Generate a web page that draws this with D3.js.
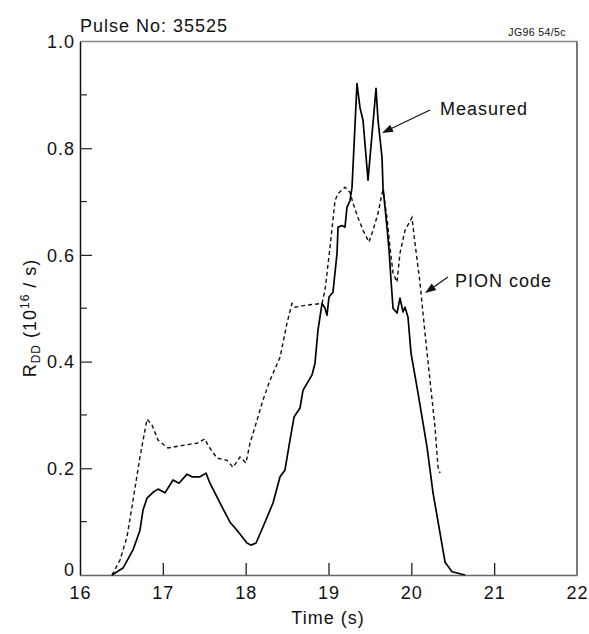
<!DOCTYPE html>
<html lang="en">
<head>
<title>Pulse 35525 - neutron rate</title>
<meta charset="utf-8">

<script src="https://d3js.org/d3.v7.min.js"></script>

<style type="text/css">

  body {
    margin: 0;
    background: #fff;
    font-family: 'Liberation Sans', Arial, sans-serif;
  }

  text {
    fill: #111;
  }

  .tick-label, .axis-title, .note {
    font-size: 18px;
    letter-spacing: 1px;
  }

</style>

</head>

<body>

<div id="chart"></div>

<script>

/* Data */
/* ======================== */

var measuredTime = [16.386, 16.519, 16.640, 16.724, 16.761, 16.809, 16.881, 16.942, 17.026, 17.123,
  17.195, 17.292, 17.352, 17.449, 17.521, 17.569, 17.690, 17.811, 17.895, 18.016,
  18.064, 18.125, 18.209, 18.330, 18.415, 18.475, 18.535, 18.584, 18.656, 18.692,
  18.801, 18.837, 18.873, 18.922, 18.958, 18.982, 19.006, 19.054, 19.103, 19.115,
  19.163, 19.199, 19.223, 19.260, 19.284, 19.344, 19.380, 19.417, 19.477, 19.574,
  19.598, 19.646, 19.658, 19.706, 19.731, 19.755, 19.779, 19.827, 19.863, 19.900,
  19.924, 19.960, 19.996, 20.081, 20.189, 20.262, 20.346, 20.407, 20.491, 20.648];

var measuredRate = [0, 0.013, 0.047, 0.084, 0.122, 0.144, 0.155, 0.161, 0.154, 0.178,
  0.172, 0.189, 0.184, 0.184, 0.191, 0.172, 0.135, 0.099, 0.084, 0.060,
  0.056, 0.060, 0.090, 0.135, 0.184, 0.197, 0.253, 0.296, 0.313, 0.346,
  0.375, 0.397, 0.459, 0.509, 0.500, 0.487, 0.521, 0.530, 0.603, 0.652,
  0.655, 0.652, 0.689, 0.702, 0.727, 0.921, 0.876, 0.852, 0.740, 0.912,
  0.852, 0.783, 0.727, 0.652, 0.609, 0.552, 0.500, 0.491, 0.519, 0.493,
  0.502, 0.483, 0.416, 0.341, 0.240, 0.154, 0.079, 0.024, 0.006, 0];

var pionTime = [16.386, 16.483, 16.567, 16.640, 16.724, 16.785, 16.809, 16.869, 16.942, 17.062,
  17.244, 17.413, 17.509, 17.545, 17.654, 17.775, 17.847, 17.932, 18.004, 18.052,
  18.137, 18.209, 18.294, 18.415, 18.499, 18.559, 18.596, 18.741, 18.922, 18.958,
  19.018, 19.079, 19.115, 19.199, 19.260, 19.296, 19.356, 19.417, 19.489, 19.537,
  19.598, 19.646, 19.658, 19.706, 19.743, 19.779, 19.827, 19.863, 19.924, 20.008,
  20.044, 20.105, 20.165, 20.225, 20.286, 20.322, 20.346];

var pionRate = [0, 0.028, 0.071, 0.140, 0.221, 0.272, 0.292, 0.281, 0.253, 0.238,
  0.243, 0.247, 0.255, 0.243, 0.219, 0.215, 0.202, 0.221, 0.210, 0.247,
  0.290, 0.328, 0.365, 0.408, 0.472, 0.509, 0.502, 0.506, 0.509, 0.534,
  0.614, 0.702, 0.715, 0.727, 0.717, 0.697, 0.670, 0.646, 0.624, 0.646,
  0.678, 0.715, 0.721, 0.670, 0.614, 0.566, 0.549, 0.603, 0.646, 0.670,
  0.622, 0.547, 0.453, 0.365, 0.277, 0.202, 0.191];

var xTicks = [16, 17, 18, 19, 20, 21, 22];
var yMajorTicks = [0, 0.2, 0.4, 0.6, 0.8, 1.0];
var yMinorTicks = [0.1, 0.3, 0.5, 0.7, 0.9];
var yTickLabels = ['0', '0.2', '0.4', '0.6', '0.8', '1.0'];


/* Set up svg and scales */
/* ===================== */

var width = 589,
    height = 634;

var svg = d3.select('#chart').append('svg')
  .attr('width', width)
  .attr('height', height);

var x = d3.scaleLinear()
  .domain([16, 22])
  .range([80, 577]);

var y = d3.scaleLinear()
  .domain([0, 1])
  .range([575, 41.5]);


/* Frame and ticks */
/* =============== */

function drawFrame() {

  var g = svg.append('g').attr('class', 'frame');

  // top and right
  g.append('line')
    .attr('x1', x(16)).attr('x2', x(22))
    .attr('y1', y(1)).attr('y2', y(1))
    .attr('stroke', '#888').attr('stroke-width', 1.4);

  g.append('line')
    .attr('x1', x(22)).attr('x2', x(22))
    .attr('y1', y(1)).attr('y2', y(0))
    .attr('stroke', '#222').attr('stroke-width', 1.2);

  // bottom axis, ticks pointing in
  var xAxis = d3.axisBottom(x)
    .tickValues(xTicks)
    .tickSizeInner(-12)
    .tickSizeOuter(0)
    .tickPadding(10)
    .tickFormat(d3.format('d'));

  var gx = svg.append('g')
    .attr('transform', 'translate(0,' + y(0) + ')')
    .call(xAxis);

  gx.select('.domain').attr('stroke', '#666').attr('stroke-width', 1.5);
  gx.selectAll('.tick line')
    .attr('stroke', '#222').attr('stroke-width', 1.3)
    .filter(function(d) { return d === 16 || d === 22; }).remove();
  gx.selectAll('.tick text')
    .attr('class', 'tick-label')
    .attr('fill', '#111')
    .attr('y', 11)
    .attr('dy', '0.71em');
  gx.attr('font-family', null).attr('font-size', null);

  // left axis, major ticks
  var yAxis = d3.axisLeft(y)
    .tickValues(yMajorTicks)
    .tickSizeInner(-12)
    .tickSizeOuter(0)
    .tickPadding(17)
    .tickFormat(function(d, i) { return yTickLabels[i]; });

  var gy = svg.append('g')
    .attr('transform', 'translate(' + x(16) + ',0)')
    .call(yAxis);

  gy.select('.domain').attr('stroke', '#111').attr('stroke-width', 1.5);
  gy.selectAll('.tick line')
    .attr('stroke', '#222').attr('stroke-width', 1.2)
    .filter(function(d) { return d === 0 || d === 1; }).remove();
  gy.selectAll('.tick text')
    .attr('class', 'tick-label')
    .attr('fill', '#111')
    .attr('x', -5)
    .attr('dy', function(d) { return d === 0 ? '0.0em' : '0.35em'; });
  gy.attr('font-family', null).attr('font-size', null);

  // minor ticks
  gy.selectAll('line.minor')
    .data(yMinorTicks)
    .enter().append('line')
    .attr('class', 'minor')
    .attr('x1', 0).attr('x2', 7)
    .attr('y1', function(d) { return y(d); })
    .attr('y2', function(d) { return y(d); })
    .attr('stroke', '#222').attr('stroke-width', 1.2);

} // drawFrame()


/* Curves */
/* ====== */

function drawCurves() {

  var line = d3.line()
    .x(function(d) { return x(d[0]); })
    .y(function(d) { return y(d[1]); });

  var pion = d3.zip(pionTime, pionRate);
  var measured = d3.zip(measuredTime, measuredRate);

  svg.append('path')
    .datum(pion)
    .attr('d', line)
    .attr('fill', 'none')
    .attr('stroke', '#111')
    .attr('stroke-width', 1.4)
    .attr('stroke-dasharray', '4,3');

  svg.append('path')
    .datum(measured)
    .attr('d', line)
    .attr('fill', 'none')
    .attr('stroke', '#000')
    .attr('stroke-width', 1.7)
    .attr('stroke-linejoin', 'round');

} // drawCurves()


/* Labels and arrows */
/* ================= */

function drawArrow(x1, y1, x2, y2) {

  var ang = Math.atan2(y2 - y1, x2 - x1),
      len = 11,
      half = 4;

  var bx = x2 - len * Math.cos(ang),
      by = y2 - len * Math.sin(ang);

  svg.append('line')
    .attr('x1', x1).attr('y1', y1)
    .attr('x2', bx).attr('y2', by)
    .attr('stroke', '#111').attr('stroke-width', 1.2);

  svg.append('path')
    .attr('d', 'M' + x2 + ',' + y2 +
      'L' + (bx + half * Math.sin(ang)) + ',' + (by - half * Math.cos(ang)) +
      'L' + (bx - half * Math.sin(ang)) + ',' + (by + half * Math.cos(ang)) + 'Z')
    .attr('fill', '#111');

} // drawArrow()

function drawLabels() {

  svg.append('text')
    .attr('class', 'note')
    .attr('x', 80).attr('y', 32)
    .text('Pulse No: 35525');

  svg.append('text')
    .attr('x', 566).attr('y', 36)
    .attr('text-anchor', 'end')
    .style('font-size', '10.5px')
    .style('letter-spacing', '0.4px')
    .text('JG96 54/5c');

  svg.append('text')
    .attr('class', 'axis-title')
    .attr('x', 328).attr('y', 624)
    .attr('text-anchor', 'middle')
    .text('Time (s)');

  var ylab = svg.append('text')
    .attr('class', 'axis-title')
    .attr('transform', 'translate(36,318) rotate(-90)')
    .attr('text-anchor', 'middle');
  ylab.append('tspan').text('R');
  ylab.append('tspan').attr('dy', 4).style('font-size', '12px').text('DD');
  ylab.append('tspan').attr('dy', -4).text(' (10');
  ylab.append('tspan').attr('dy', -7).style('font-size', '12px').text('16');
  ylab.append('tspan').attr('dy', 7).text(' / s)');

  svg.append('text')
    .attr('class', 'note')
    .attr('x', 440).attr('y', 115)
    .text('Measured');

  svg.append('text')
    .attr('class', 'note')
    .attr('x', 455).attr('y', 287)
    .text('PION code');

  drawArrow(430, 110, 382, 133);
  drawArrow(448, 277, 425, 293);

} // drawLabels()


drawFrame();
drawCurves();
drawLabels();

</script>

</body>
</html>
